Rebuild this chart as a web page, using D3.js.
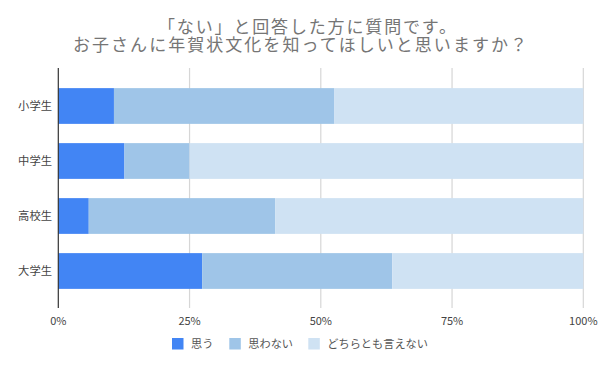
<!DOCTYPE html>
<html><head><meta charset="utf-8">
<script src="https://cdn.jsdelivr.net/npm/d3@7"></script>
<style>body{margin:0;background:#fff;}svg{display:block;font-family:"Noto Sans CJK JP","Noto Sans",sans-serif;}</style>
</head><body><svg id="c" width="602" height="368"></svg>
<script>
const categories = ["小学生","中学生","高校生","大学生"];
const seriesNames = ["思う","思わない","どちらとも言えない"];
const omou = [10.6, 12.6, 5.8, 27.4];
const omowanai = [42.0, 12.4, 35.5, 36.2];
const dochira = [47.4, 75.0, 58.7, 36.4];
const tickValues = [0, 25, 50, 75, 100];
const tickLabels = ["0%","25%","50%","75%","100%"];
const colors = ["#4285f4","#9fc5e8","#cfe2f3"];
const titleLines = ["「ない」と回答した方に質問です。","お子さんに年賀状文化を知ってほしいと思いますか？"];

const svg = d3.select("#c");
const x = d3.scaleLinear().domain([0,100]).range([58.3,583.3]);
const y = d3.scaleBand().domain(categories).range([78.5,298.5]).paddingInner(0.35).paddingOuter(0.175);
const plotTop = 68, plotBottom = 308;

// title
const title = svg.append("g").attr("fill","#757575").attr("font-size",17);
title.append("text").attr("x",158).attr("y",33).attr("textLength",298).attr("lengthAdjust","spacing").text(titleLines[0]);
title.append("text").attr("x",73).attr("y",51).attr("textLength",454).attr("lengthAdjust","spacing").text(titleLines[1]);

// grid
svg.append("g").selectAll("line").data(tickValues.slice(1)).join("line")
  .attr("x1",d=>x(d)).attr("x2",d=>x(d)).attr("y1",plotTop).attr("y2",plotBottom)
  .attr("stroke","#d6d6d6").attr("stroke-width",1.2);

const data = categories.map((c,i)=>({cat:c, 思う:omou[i], 思わない:omowanai[i], どちらとも言えない:dochira[i]}));
const stack = d3.stack().keys(seriesNames)(data);
svg.append("g").selectAll("g").data(stack).join("g").attr("fill",(d,i)=>colors[i])
  .selectAll("rect").data(d=>d).join("rect")
  .attr("x",d=>x(d[0])).attr("width",d=>x(d[1])-x(d[0]))
  .attr("y",d=>y(d.data.cat)).attr("height",y.bandwidth());

// baseline
svg.append("line").attr("x1",x(0)).attr("x2",x(0)).attr("y1",plotTop).attr("y2",plotBottom).attr("stroke","#333").attr("stroke-width",1.2);

// y labels
svg.append("g").selectAll("text").data(categories).join("text")
  .attr("x",52).attr("y",d=>y(d)+y.bandwidth()/2).attr("dy","0.35em")
  .attr("text-anchor","end").attr("font-size",11.3).attr("fill","#444").text(d=>d);

// x labels
svg.append("g").selectAll("text").data(tickValues).join("text")
  .attr("x",d=>x(d)).attr("y",325).attr("text-anchor","middle")
  .attr("font-size",11).attr("fill","#444").text((d,i)=>tickLabels[i]);

// legend
const legX = [172, 229.3, 308.3];
const leg = svg.append("g").selectAll("g").data(seriesNames).join("g")
  .attr("transform",(d,i)=>`translate(${legX[i]},338)`);
leg.append("rect").attr("width",11.5).attr("height",11.5).attr("fill",(d,i)=>colors[i]);
leg.append("text").attr("x",19).attr("y",6).attr("dy","0.35em").attr("font-size",11.2).attr("fill","#555").text(d=>d);
</script></body></html>
